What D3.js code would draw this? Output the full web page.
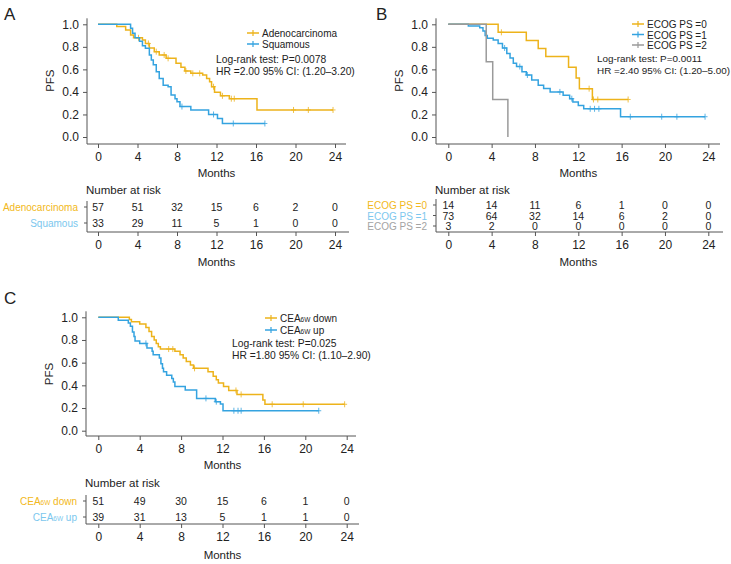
<!DOCTYPE html>
<html><head><meta charset="utf-8">
<script src="https://cdn.jsdelivr.net/npm/d3@7"></script>
<style>body{margin:0;background:#fff}svg{display:block}text{font-family:"Liberation Sans",Arial,sans-serif;fill:#222}</style>
</head><body>
<script>
// ---------- data ----------
const monthTicks = [0, 4, 8, 12, 16, 20, 24];
const pfsTicks = [0, 0.2, 0.4, 0.6, 0.8, 1.0];

// Panel A
const adenoTimes  = [0, 1.9, 2.8, 3.3, 3.6, 4.5, 4.8, 5.2, 5.7, 6.2, 6.9, 7.9, 8.4, 8.8, 9.4, 10.6, 11.0, 11.3, 11.5, 11.8, 12.4, 13.3, 16.1];
const adenoSurv   = [1.0, 0.98, 0.95, 0.905, 0.88, 0.86, 0.83, 0.79, 0.757, 0.728, 0.698, 0.654, 0.62, 0.586, 0.565, 0.55, 0.52, 0.49, 0.446, 0.397, 0.365, 0.34, 0.24];
const adenoEnd = 23.8;
const adenoCens = [4.1, 5.1, 5.9, 6.7, 7.1, 8.9, 9.6, 10.3, 11.7, 12.6, 13.5, 13.8, 19.8, 21.3, 23.8];
const squaTimes = [0, 3.3, 3.5, 3.75, 4.2, 4.5, 4.8, 5.2, 5.4, 5.6, 5.9, 6.2, 6.6, 7.1, 7.4, 7.8, 8.0, 8.3, 9.4, 11.2, 12.1, 12.6];
const squaSurv  = [1.0, 0.965, 0.92, 0.88, 0.85, 0.81, 0.787, 0.728, 0.683, 0.64, 0.58, 0.52, 0.46, 0.446, 0.373, 0.34, 0.313, 0.27, 0.24, 0.20, 0.165, 0.12];
const squaEnd = 16.9;
const squaCens = [8.5, 11.7, 13.7, 16.9];
const riskAdeno = [57, 51, 32, 15, 6, 2, 0];
const riskSqua  = [33, 29, 11, 5, 1, 0, 0];

// Panel B
const ps0Times = [0, 4.6, 7.2, 8.3, 9.0, 11.1, 11.8, 12.1, 13.3];
const ps0Surv  = [1.0, 0.929, 0.857, 0.786, 0.714, 0.619, 0.524, 0.429, 0.333];
const ps0End = 16.6;
const ps0Cens = [4.9, 13.0, 13.4, 13.8, 16.6];
const ps1Times = [0, 1.85, 2.9, 3.2, 3.4, 3.6, 4.15, 4.6, 5.0, 5.4, 5.7, 6.0, 6.3, 6.8, 7.2, 7.7, 8.3, 8.8, 9.4, 10.6, 11.2, 11.5, 12.0, 12.5, 15.9];
const ps1Surv  = [1.0, 0.986, 0.97, 0.94, 0.90, 0.876, 0.86, 0.83, 0.79, 0.74, 0.70, 0.655, 0.625, 0.58, 0.55, 0.505, 0.46, 0.43, 0.40, 0.37, 0.34, 0.31, 0.28, 0.25, 0.18];
const ps1End = 23.7;
const ps1Cens = [5.2, 6.6, 7.3, 10.3, 11.4, 13.1, 13.5, 13.9, 16.8, 19.7, 21.1, 23.7];
const ps2Times = [0, 3.5, 4.1, 5.5];
const ps2Surv  = [1.0, 0.667, 0.333, 0.0];
const ps2End = 5.5;
const ps2Cens = [];
const riskPs0 = [14, 14, 11, 6, 1, 0, 0];
const riskPs1 = [73, 64, 32, 14, 6, 2, 0];
const riskPs2 = [3, 2, 0, 0, 0, 0, 0];

// Panel C
const downTimes = [0, 3.0, 3.2, 4.0, 4.6, 4.9, 5.15, 5.4, 5.6, 5.8, 6.0, 7.4, 7.9, 8.2, 8.5, 8.9, 9.2, 10.6, 11.1, 11.4, 11.6, 12.1, 12.6, 13.4, 15.9, 16.1];
const downSurv  = [1.0, 0.98, 0.96, 0.94, 0.91, 0.875, 0.83, 0.80, 0.77, 0.74, 0.72, 0.70, 0.67, 0.64, 0.61, 0.58, 0.55, 0.52, 0.48, 0.45, 0.42, 0.39, 0.355, 0.32, 0.27, 0.233];
const downEnd = 23.8;
const downCens = [6.8, 7.2, 9.3, 13.3, 13.8, 16.8, 19.8, 23.8];
const upTimes = [0, 1.93, 2.9, 3.1, 3.3, 3.45, 3.55, 4.0, 4.7, 5.2, 5.3, 5.9, 6.05, 6.2, 6.3, 6.6, 7.1, 7.25, 7.4, 8.4, 9.5, 11.3, 11.8, 12.05];
const upSurv  = [1.0, 0.974, 0.95, 0.92, 0.87, 0.83, 0.79, 0.77, 0.73, 0.70, 0.67, 0.64, 0.59, 0.55, 0.52, 0.49, 0.46, 0.43, 0.39, 0.36, 0.285, 0.256, 0.235, 0.176];
const upEnd = 21.3;
const upCens = [4.6, 10.4, 11.4, 13.1, 13.5, 13.8, 21.3];
const riskDown = [51, 49, 30, 15, 6, 1, 0];
const riskUp   = [39, 31, 13, 5, 1, 1, 0];

// ---------- styling ----------
const YEL = "#EDB31B", BLU = "#34A3E0", GRY = "#9A9A9A";
const YEL_L = "#F2B820", BLU_L = "#7CC7EE", GRY_L = "#A3A3A3";
const FS_TICK = 12, FS_TITLE = 11.5, FS_LEG = 10, FS_ROW = 10, FS_NUM = 10.5;
const FONT = '"Liberation Sans",Arial,sans-serif';

const svg = d3.select("body").append("svg").attr("width", 731).attr("height", 564);

function labelText(sel, parts, fs) {
  parts.forEach(([t, sub]) => {
    const ts = sel.append("tspan").text(t);
    if (sub) ts.attr("font-size", fs * 0.65).attr("baseline-shift", "-25%");
  });
}

function drawPanel(p) {
  const g = svg.append("g");
  const x = d3.scaleLinear().domain([0, 24]).range([p.x0, p.x24]);
  const y = d3.scaleLinear().domain([0, 1]).range([p.y0, p.y1]);

  g.append("text").attr("x", p.letterX).attr("y", p.letterY).attr("font-size", 17).text(p.letter);

  // y axis
  const ya = g.append("g").attr("transform", `translate(${p.ax},0)`)
    .call(d3.axisLeft(y).tickValues(pfsTicks).tickFormat(d3.format(".1f")).tickSize(4).tickPadding(4));
  ya.select(".domain").remove();
  g.append("line").attr("x1", p.ax).attr("x2", p.ax).attr("y1", p.y1 - 6).attr("y2", p.axY).attr("stroke", "#555");
  // x axis
  const xa = g.append("g").attr("transform", `translate(0,${p.axY})`)
    .call(d3.axisBottom(x).tickValues(monthTicks).tickSize(4).tickPadding(4));
  xa.select(".domain").remove();
  g.append("line").attr("x1", p.ax).attr("x2", p.axEnd).attr("y1", p.axY).attr("y2", p.axY).attr("stroke", "#555");
  g.selectAll(".tick line").attr("stroke", "#555");
  g.selectAll(".tick text").attr("font-size", FS_TICK).attr("fill", "#222").attr("font-family", FONT);

  g.append("text").attr("transform", `translate(${p.ax - 37},${(p.y0 + p.y1) / 2}) rotate(-90)`)
    .attr("text-anchor", "middle").attr("dominant-baseline", "central").attr("font-size", FS_TITLE).text("PFS");
  g.append("text").attr("x", (p.x0 + p.x24) / 2).attr("y", p.monthsY).attr("text-anchor", "middle")
    .attr("dominant-baseline", "central").attr("font-size", FS_TITLE).text("Months");

  // curves
  const line = d3.line().x(d => x(d[0])).y(d => y(d[1])).curve(d3.curveStepAfter);
  p.series.forEach(s => {
    const pts = s.times.map((t, i) => [t, s.surv[i]]);
    pts.push([s.end, s.surv[s.surv.length - 1]]);
    g.append("path").attr("d", line(pts)).attr("fill", "none").attr("stroke", s.color).attr("stroke-width", 1.5);
    const survAt = t => { let v = 1; s.times.forEach((tt, i) => { if (tt <= t) v = s.surv[i]; }); return v; };
    s.cens.forEach(c => {
      const cx = x(c), cy = y(survAt(c));
      g.append("path").attr("d", `M${cx},${cy - 3}V${cy + 3}M${cx - 2.5},${cy}H${cx + 2.5}`)
        .attr("stroke", s.color).attr("stroke-width", 1).attr("opacity", 0.8);
    });
  });

  // legend
  p.series.forEach((s, i) => {
    const ly = p.legY + i * p.legStep;
    g.append("line").attr("x1", p.legX).attr("x2", p.legX + 12).attr("y1", ly).attr("y2", ly).attr("stroke", s.color).attr("stroke-width", 1.5);
    g.append("line").attr("x1", p.legX + 6).attr("x2", p.legX + 6).attr("y1", ly - 3).attr("y2", ly + 3).attr("stroke", s.color).attr("stroke-width", 1.2);
    const t = g.append("text").attr("x", p.legX + 15).attr("y", ly).attr("dominant-baseline", "central").attr("font-size", FS_LEG);
    labelText(t, s.name, FS_LEG);
  });
  p.stats.forEach((st, i) => {
    g.append("text").attr("x", p.statX).attr("y", p.statY + i * 12.5).attr("dominant-baseline", "central").attr("font-size", p.statFs).text(st);
  });

  // risk table
  g.append("text").attr("x", p.ax - 1).attr("y", p.nrY).attr("dominant-baseline", "central").attr("font-size", FS_TITLE).text("Number at risk");
  const topRow = p.rowY[0];
  g.append("line").attr("x1", p.ax).attr("x2", p.ax).attr("y1", topRow - 6).attr("y2", p.tAxY).attr("stroke", "#555");
  g.append("line").attr("x1", p.ax).attr("x2", p.axEnd + 3).attr("y1", p.tAxY).attr("y2", p.tAxY).attr("stroke", "#555");
  const ta = g.append("g").attr("transform", `translate(0,${p.tAxY})`)
    .call(d3.axisBottom(x).tickValues(monthTicks).tickSize(4).tickPadding(4));
  ta.select(".domain").remove();
  ta.selectAll(".tick line").attr("stroke", "#555");
  ta.selectAll(".tick text").attr("font-size", FS_TICK).attr("fill", "#222").attr("font-family", FONT);
  g.append("text").attr("x", (p.x0 + p.x24) / 2).attr("y", p.tMonthsY).attr("text-anchor", "middle")
    .attr("dominant-baseline", "central").attr("font-size", FS_TITLE).text("Months");

  p.series.forEach((s, i) => {
    const ry = p.rowY[i];
    g.append("line").attr("x1", p.ax - 3).attr("x2", p.ax).attr("y1", ry).attr("y2", ry).attr("stroke", "#555");
    const t = g.append("text").attr("x", p.ax - 9).attr("y", ry).attr("text-anchor", "end")
      .attr("dominant-baseline", "central").attr("font-size", FS_ROW).style("fill", s.labelColor);
    labelText(t, s.name, FS_ROW);
    s.risk.forEach((n, j) => {
      g.append("text").attr("x", x(monthTicks[j])).attr("y", ry).attr("text-anchor", "middle")
        .attr("dominant-baseline", "central").attr("font-size", FS_NUM).text(n);
    });
  });
}

drawPanel({
  letter: "A", letterX: 4, letterY: 20,
  ax: 87, x0: 98, x24: 335, y0: 137, y1: 24.3, axY: 144, axEnd: 346, monthsY: 173,
  legX: 247, legY: 33, legStep: 11, statX: 216, statY: 59, statFs: 10.3,
  stats: ["Log-rank test: P=0.0078", "HR =2.00 95% CI: (1.20\u20133.20)"],
  nrY: 190, rowY: [207, 223], tAxY: 232, tMonthsY: 262,
  series: [
    {name: [["Adenocarcinoma", false]], times: adenoTimes, surv: adenoSurv, end: adenoEnd, cens: adenoCens, risk: riskAdeno, color: YEL, labelColor: YEL_L},
    {name: [["Squamous", false]], times: squaTimes, surv: squaSurv, end: squaEnd, cens: squaCens, risk: riskSqua, color: BLU, labelColor: BLU_L}
  ]
});

drawPanel({
  letter: "B", letterX: 376, letterY: 20,
  ax: 436, x0: 448.3, x24: 708.3, y0: 137, y1: 24.3, axY: 144, axEnd: 720, monthsY: 173,
  legX: 632, legY: 24, legStep: 10.5, statX: 597, statY: 58, statFs: 9.9,
  stats: ["Log-rank test: P=0.0011", "HR =2.40 95% CI: (1.20\u20135.00)"],
  nrY: 190, rowY: [205, 215.5, 226], tAxY: 232, tMonthsY: 262,
  series: [
    {name: [["ECOG PS =0", false]], times: ps0Times, surv: ps0Surv, end: ps0End, cens: ps0Cens, risk: riskPs0, color: YEL, labelColor: YEL_L},
    {name: [["ECOG PS =1", false]], times: ps1Times, surv: ps1Surv, end: ps1End, cens: ps1Cens, risk: riskPs1, color: BLU, labelColor: BLU_L},
    {name: [["ECOG PS =2", false]], times: ps2Times, surv: ps2Surv, end: ps2End, cens: ps2Cens, risk: riskPs2, color: GRY, labelColor: GRY_L}
  ]
});

drawPanel({
  letter: "C", letterX: 4, letterY: 304,
  ax: 86, x0: 98.3, x24: 346.7, y0: 430.7, y1: 317.3, axY: 436, axEnd: 356, monthsY: 465,
  legX: 265, legY: 318, legStep: 12, statX: 232, statY: 343, statFs: 10.3,
  stats: ["Log-rank test: P=0.025", "HR =1.80 95% CI: (1.10\u20132.90)"],
  nrY: 483, rowY: [501, 517], tAxY: 524, tMonthsY: 555,
  series: [
    {name: [["CEA", false], ["6W", true], [" down", false]], times: downTimes, surv: downSurv, end: downEnd, cens: downCens, risk: riskDown, color: YEL, labelColor: YEL_L},
    {name: [["CEA", false], ["6W", true], [" up", false]], times: upTimes, surv: upSurv, end: upEnd, cens: upCens, risk: riskUp, color: BLU, labelColor: BLU_L}
  ]
});
</script>
</body></html>
